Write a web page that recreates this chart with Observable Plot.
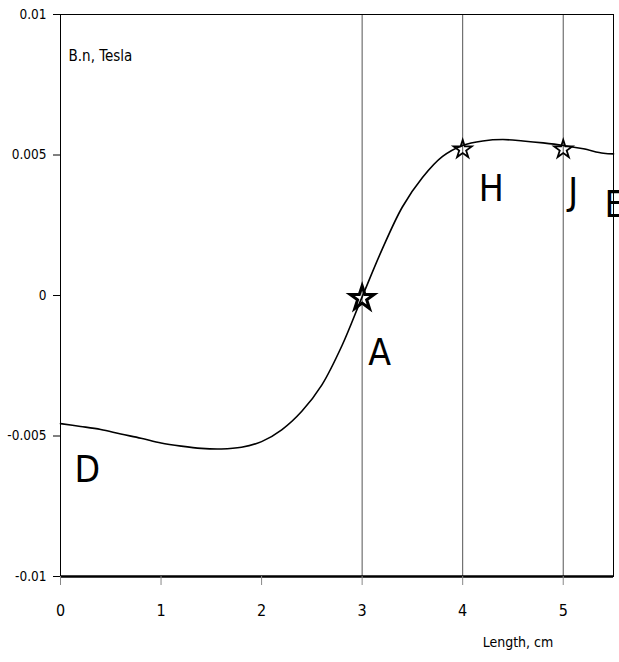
<!DOCTYPE html>
<html><head><meta charset="utf-8">
<script src="https://cdn.jsdelivr.net/npm/d3@7"></script>
<script src="https://cdn.jsdelivr.net/npm/@observablehq/plot@0.6"></script>
<style>body{margin:0;background:#fff} svg{display:block}</style>
</head><body><div id="chart"></div>
<script>
// Curve: normal component of B (Tesla) along the length (cm)
const lengthCm = [0, 0.2, 0.4, 0.6, 0.8, 1.0, 1.2, 1.4, 1.6, 1.8, 2.0, 2.2, 2.4, 2.6, 2.8, 3.0, 3.2, 3.4, 3.6, 3.8, 4.0, 4.2, 4.4, 4.6, 4.8, 5.0, 5.2, 5.4, 5.5];
const bTesla = [-0.00456, -0.00466, -0.00477, -0.00493, -0.00508, -0.00525, -0.00536, -0.00544, -0.00546, -0.00540, -0.00520, -0.00478, -0.00412, -0.00318, -0.00178, -0.00005, 0.00165, 0.00315, 0.00420, 0.00495, 0.00534, 0.00550, 0.00555, 0.00550, 0.00543, 0.00534, 0.00522, 0.00506, 0.00504];

// Star markers
const bigStarX = [3];
const bigStarY = [-0.0001];
const smallStarX = [4, 5];
const smallStarY = [0.0052, 0.0052];

// Point letters
const pointLetters = ["D", "A", "H", "J", "E"];
const letterX = [0.14, 3.06, 4.16, 5.05, 5.41];
const letterY = [-0.00665, -0.00249, 0.00338, 0.00324, 0.00278];

// Axis labels / ticks
const yTicks = [-0.01, -0.005, 0, 0.005, 0.01];
const yTickLabels = ["-0.01", "-0.005", "0", "0.005", "0.01"];
const xTicks = [0, 1, 2, 3, 4, 5];
const xTickLabels = ["0", "1", "2", "3", "4", "5"];
const gridX = [3, 4, 5];
const yTitle = ["B.n, Tesla"];
const yTitleX = [0.08];
const yTitleY = [0.0085];
const xTitle = ["Length, cm"];
const xTitleX = [4.55];

const curve = lengthCm.map((x, i) => ({x, y: bTesla[i]}));
const bigStars = bigStarX.map((x, i) => ({x, y: bigStarY[i]}));
const smallStars = smallStarX.map((x, i) => ({x, y: smallStarY[i]}));
const letters = pointLetters.map((t, i) => ({t, x: letterX[i], y: letterY[i]}));
const yT = yTitle.map((t, i) => ({t, x: yTitleX[i], y: yTitleY[i]}));
const xT = xTitle.map((t, i) => ({t, x: xTitleX[i]}));

const cond = "'DejaVu Sans Condensed', 'DejaVu Sans', sans-serif";

const plot = Plot.plot({
  width: 619, height: 662,
  marginLeft: 60, marginRight: 6, marginTop: 14, marginBottom: 86,
  style: {fontFamily: cond, fontSize: "13px", color: "#000", background: "#fff"},
  x: {domain: [0, 5.5]},
  y: {domain: [-0.01, 0.01]},
  marks: [
    Plot.ruleX(gridX, {stroke: "#555", strokeWidth: 1}),
    Plot.frame({stroke: "#000", strokeWidth: 1}),
    Plot.ruleY([-0.01], {stroke: "#000", strokeWidth: 2.5}),
    Plot.axisY({ticks: yTicks, tickFormat: d => yTickLabels[yTicks.indexOf(d)], tickSize: 7, tickPadding: 7, label: null, fontSize: 13.5}),
    Plot.axisX({ticks: xTicks, tickFormat: d => xTickLabels[xTicks.indexOf(d)], tickSize: 9, tickPadding: 19, label: null, stroke: "#888", fontSize: 16}),
    Plot.line(curve, {x: "x", y: "y", stroke: "#000", strokeWidth: 1.6, curve: "catmull-rom"}),
    Plot.dot(bigStars, {x: "x", y: "y", symbol: "star", r: 7.5, stroke: "#000", strokeWidth: 3, fill: "none"}),
    Plot.dot(smallStars, {x: "x", y: "y", symbol: "star", r: 5.7, stroke: "#000", strokeWidth: 1.8, fill: "none"}),
    Plot.text(letters, {x: "x", y: "y", text: "t", textAnchor: "start", lineAnchor: "bottom", fontSize: 37, fill: "#000"}),
    Plot.text(yT, {x: "x", y: "y", text: "t", textAnchor: "start", lineAnchor: "middle", fontSize: 15, fill: "#000"}),
    Plot.text(xT, {x: "x", text: "t", frameAnchor: "bottom", dy: 66, textAnchor: "middle", lineAnchor: "middle", fontSize: 14, fill: "#000"})
  ]
});
document.getElementById("chart").appendChild(plot);
</script>
</body></html>
